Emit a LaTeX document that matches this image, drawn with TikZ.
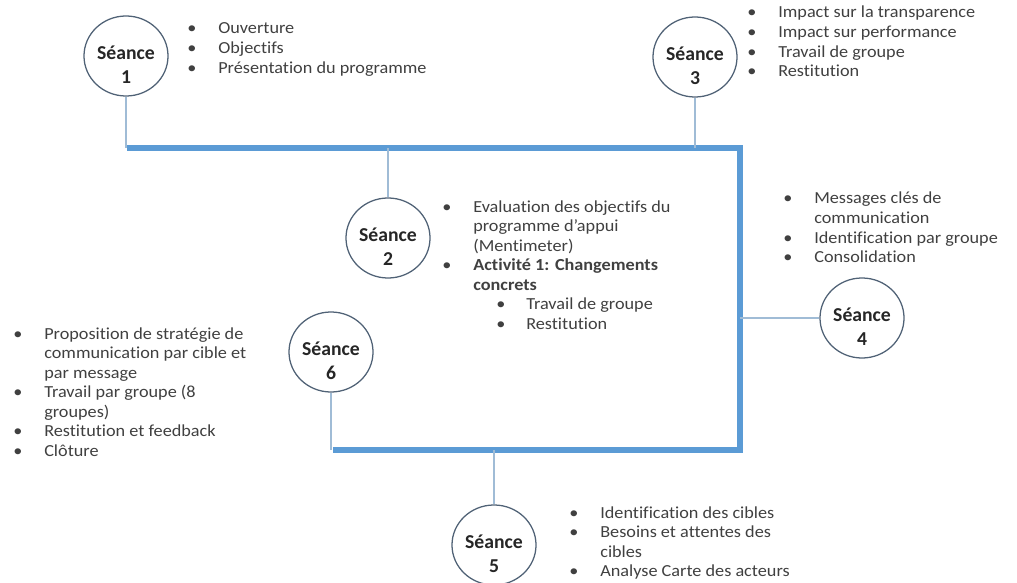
\documentclass[tikz,border=0pt]{standalone}
\usepackage{fontspec}
\setmainfont{Carlito}
\newfontfamily\listfont{Carlito}[FakeStretch=1.08,Ligatures=NoCommon]
\usetikzlibrary{shapes.geometric}
\definecolor{barblue}{RGB}{91,155,213}
\definecolor{thinblue}{RGB}{160,188,214}
\definecolor{circline}{RGB}{80,98,118}
\definecolor{txtgray}{RGB}{64,64,64}
\tikzset{
  seance/.style={ellipse, draw=circline, line width=0.9pt, fill=white,
    minimum width=2.1cm, minimum height=2cm, inner sep=0pt,
    label={[seancetxt]center:Séance\\#1}},
  seancetxt/.style={align=center, yshift=-0.22cm, inner sep=0pt,
    font=\fontsize{14}{17}\selectfont\bfseries, text=black!85},
  bar/.style={barblue, line width=3.6pt},
  link/.style={thinblue, line width=0.9pt},
  items/.style={anchor=base west, inner sep=0pt, text=txtgray,
    font=\listfont\fontsize{12}{13.9}\selectfont}
}
\newcommand{\liste}[1]{\begin{tabular}[t]{@{}p{0.775cm}@{}l@{}}#1\end{tabular}}
\newcommand{\souspuce}{\hspace{0.575cm}\makebox[0.75cm][l]{\textbullet}}

\begin{document}
\begin{tikzpicture}[x=0.025cm,y=-0.025cm]
\useasboundingbox (0,0) rectangle (1017,583);

% the frame
\coordinate (tl) at (127,148);
\coordinate (tr) at (740,148);
\coordinate (br) at (740,450);
\coordinate (bl) at (333,450);
\draw[bar] (tl) -- (tr) -- (br) -- (bl);

% sessions
\node[seance=1] (s1) at (126,56) {};
\node[seance=2] (s2) at (388,238) {};
\node[seance=3] (s3) at (695,57) {};
\node[seance=4] (s4) at (862,318) {};
\node[seance=5] (s5) at (494,545) {};
\node[seance=6] (s6) at (331,352) {};

\draw[link] (s1.south) -- (s1.south |- tl);
\draw[link] (s2.north) -- (s2.north |- tl);
\draw[link] (s3.south) -- (s3.south |- tr);
\draw[link] (s4.west) -- (s4.west -| tr);
\draw[link] (s5.north) -- (s5.north |- bl);
\draw[link] (s6.south) -- (s6.south |- bl);

% contents
\node[items] (l1) at (187,34) {\liste{
  \textbullet & Ouverture\\
  \textbullet & Objectifs\\
  \textbullet & Présentation du programme}};
\node[items] (l3) at (747,18) {\liste{
  \textbullet & Impact sur la transparence\\
  \textbullet & Impact sur performance\\
  \textbullet & Travail de groupe\\
  \textbullet & Restitution}};
\node[items] (l2) at (442,212) {\liste{
  \textbullet & Evaluation des objectifs du\\
  & programme d’appui\\
  & (Mentimeter)\\
  \textbullet & \textbf{Activité 1: Changements}\\
  & \textbf{concrets}\\
  & \souspuce Travail de groupe\\
  & \souspuce Restitution}};
\node[items] (l4) at (783,204) {\liste{
  \textbullet & Messages clés de\\
  & communication\\
  \textbullet & Identification par groupe\\
  \textbullet & Consolidation}};
\node[items] (l5) at (569,518) {\liste{
  \textbullet & Identification des cibles\\
  \textbullet & Besoins et attentes des\\
  & cibles\\
  \textbullet & Analyse Carte des acteurs}};
\node[items] (l6) at (13,339) {\liste{
  \textbullet & Proposition de stratégie de\\
  & communication par cible et\\
  & par message\\
  \textbullet & Travail par groupe (8\\
  & groupes)\\
  \textbullet & Restitution et feedback\\
  \textbullet & Clôture}};
\end{tikzpicture}
\end{document}
